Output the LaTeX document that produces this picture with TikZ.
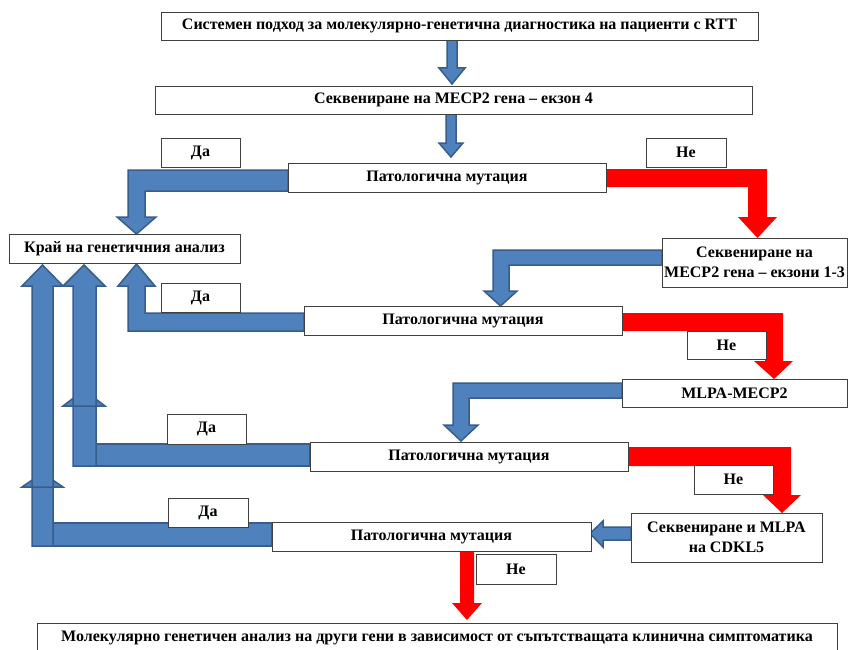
\documentclass[tikz,border=0pt]{standalone}
\usepackage{fontspec}
\setmainfont{Liberation Serif}
\usetikzlibrary{calc}
\definecolor{bfill}{HTML}{4F81BD}
\definecolor{bdraw}{HTML}{385D8A}
\definecolor{rfill}{HTML}{FF0000}
\definecolor{boxline}{HTML}{404040}
\pgfdeclarelayer{bg}
\pgfsetlayers{bg,main}
\begin{document}
\begin{tikzpicture}[x=1pt,y=-1pt,
  box/.style={draw=boxline, line width=0.9pt, fill=white, inner sep=0pt, outer sep=0pt,
    font=\fontsize{16}{20}\selectfont\bfseries, align=center},
  blk/.style={fill=bfill, draw=bdraw, line width=1.5pt, line join=miter},
  redblk/.style={fill=rfill}]
\clip (0,0) rectangle (848,650);
% boxes
\node[box, minimum width=597, minimum height=28] (top) at (459.5,26) {Системен подход за молекулярно-генетична диагностика на пациенти с RTT};
\node[box, minimum width=597, minimum height=28] (mecp) at (453.5,100) {Секвениране на MECP2 гена – екзон 4};
\node[box, minimum width=318, minimum height=29] (pat1) at (447,177.5) {Патологична мутация};
\node[box, minimum width=79, minimum height=29] (da1) at (200.5,152.5) {Да};
\node[box, minimum width=80, minimum height=29] (ne1) at (686,152.5) {Не};
\node[box, minimum width=231, minimum height=29] (kraj) at (124.5,248.5) {Край на генетичния анализ};
\node[box, minimum width=185, minimum height=49] (ex13) at (754.5,262.5) {Секвениране на\\MECP2 гена – екзони 1-3};
\node[box, minimum width=318, minimum height=29] (pat2) at (463,320.5) {Патологична мутация};
\node[box, minimum width=79, minimum height=29] (da2) at (200.5,297.5) {Да};
\node[box, minimum width=79, minimum height=28] (ne2) at (726.5,345) {Не};
\node[box, minimum width=225, minimum height=28] (mlpa) at (734.5,393) {MLPA-MECP2};
\node[box, minimum width=318, minimum height=29] (pat3) at (469,456.5) {Патологична мутация};
\node[box, minimum width=79, minimum height=30] (da3) at (206.5,429) {Да};
\node[box, minimum width=79, minimum height=29] (ne3) at (733.5,479.5) {Не};
\node[box, minimum width=191, minimum height=49] (cdkl) at (726.5,537.5) {Секвениране и MLPA\\на CDKL5};
\node[box, minimum width=319, minimum height=29] (pat4) at (431.5,536.5) {Патологична мутация};
\node[box, minimum width=80, minimum height=29] (da4) at (208,512.5) {Да};
\node[box, minimum width=80, minimum height=30] (ne4) at (516,569) {Не};
\node[box, minimum width=800, minimum height=30] (bot) at (437,638) {Молекулярно генетичен анализ на други гени в зависимост от съпътстващата клинична симптоматика};
\begin{pgfonlayer}{bg}
\fill[white] (0,0) rectangle (848,650);
% top straight arrows
\filldraw[blk] ($(top.south)+(-12.5,0)$) -- (447,68) -- (439,68) -- (452,84) -- (465,68) -- (457,68) -- ($(top.south)+(-2.5,0)$) -- cycle;
\filldraw[blk] ($(mecp.south)+(-7.5,0)$) -- (446,143) -- (439,143) -- (451,157) -- (463,143) -- (456,143) -- ($(mecp.south)+(2.5,0)$) -- cycle;
% Da 1: pat1 -> kraj
\filldraw[blk] ($(pat1.west)+(0,-7.5)$) -- (128,170) -- (128,217) -- (117,217) -- (136.5,234) -- (156,217) -- (145,217) -- (145,191) -- ($(pat1.west)+(0,13.5)$) -- cycle;
% Ne 1: pat1 -> ex13
\fill[redblk] ($(pat1.east)+(0,-8.5)$) -- (767,169) -- (767,217) -- (777,217) -- (757.5,238) -- (738,217) -- (748,217) -- (748,187) -- ($(pat1.east)+(0,9.5)$) -- cycle;
% ex13 -> pat2
\filldraw[blk] ($(ex13.west)+(0,-12.5)$) -- (493,250) -- (493,291) -- (484,291) -- (500.5,306) -- (517,291) -- (509,291) -- (509,265) -- ($(ex13.west)+(0,2.5)$) -- cycle;
% Da 2: pat2 -> kraj
\filldraw[blk] ($(pat2.west)+(0,10.5)$) -- (128,331) -- (128,286) -- (118,286) -- (136.5,264) -- (155,286) -- (145,286) -- (145,313) -- ($(pat2.west)+(0,-7.5)$) -- cycle;
% Ne 2: pat2 -> mlpa
\fill[redblk] ($(pat2.east)+(0,-7.5)$) -- (783,313) -- (783,361) -- (793,361) -- (774,379) -- (754,361) -- (765,361) -- (765,331) -- ($(pat2.east)+(0,10.5)$) -- cycle;
% mlpa -> pat3
\filldraw[blk] ($(mlpa.west)+(0,-10)$) -- (453,383) -- (453,425) -- (444,425) -- (461,441) -- (478,425) -- (469,425) -- (469,398) -- ($(mlpa.west)+(0,5)$) -- cycle;
% Da 3: pat3 -> kraj (band + lower up arrow + upper up arrow)
\filldraw[blk] (96,444) rectangle ($(pat3.west)+(0,9.5)$);
\filldraw[blk] (73,466) -- (73,406) -- (63,406) -- (84,390) -- (105,406) -- (96,406) -- (96,466) -- cycle;
\filldraw[blk] (73,406) -- (73,286) -- (63,286) -- (84,265) -- (105,286) -- (96,286) -- (96,406) -- cycle;
% Ne 3: pat3 -> cdkl
\fill[redblk] ($(pat3.east)+(0,-9.5)$) -- (791,447) -- (791,495) -- (801,495) -- (782,513) -- (763,495) -- (773,495) -- (773,466) -- ($(pat3.east)+(0,9.5)$) -- cycle;
% cdkl -> pat4
\filldraw[blk] ($(cdkl.west)+(0,-10.5)$) -- (603,527) -- (603,521) -- (590,533.5) -- (603,547) -- (603,540) -- ($(cdkl.west)+(0,2.5)$) -- cycle;
% Da 4: pat4 -> kraj
\filldraw[blk] (53,523) rectangle ($(pat4.west)+(0,9.5)$);
\filldraw[blk] (32,546) -- (32,487) -- (22,487) -- (42.5,473) -- (63,487) -- (53,487) -- (53,546) -- cycle;
\filldraw[blk] (32,487) -- (32,286) -- (22,286) -- (42.5,265) -- (63,286) -- (53,286) -- (53,487) -- cycle;
% Ne 4: pat4 -> bot
\fill[redblk] ($(pat4.south)+(28.5,0)$) -- (460,603) -- (452,603) -- (467,620) -- (482,603) -- (474,603) -- ($(pat4.south)+(42.5,0)$) -- cycle;
\end{pgfonlayer}
\end{tikzpicture}
\end{document}
